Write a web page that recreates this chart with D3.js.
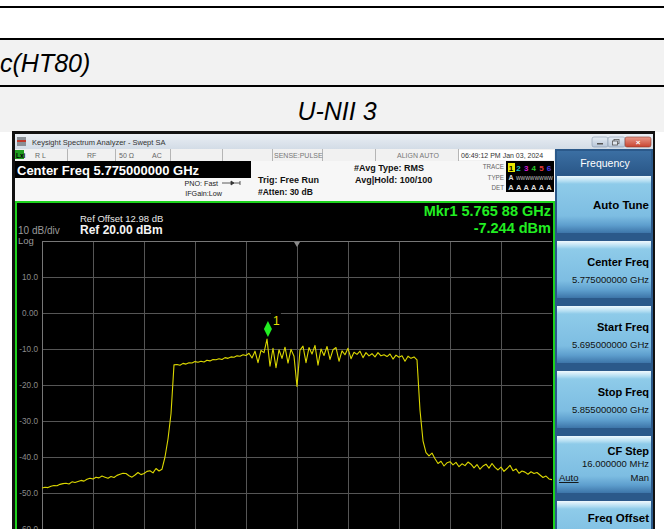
<!DOCTYPE html>
<html><head><meta charset="utf-8">
<script src="https://cdn.jsdelivr.net/npm/d3@7"></script>
<style>
body{margin:0;background:#fff}
svg{display:block}
text{font-family:"Liberation Sans",Arial,sans-serif}
</style>
</head><body>
<svg id="c" width="664" height="529"></svg>
<script>
// ---------------- data ----------------
const pageRows = ["c(HT80)", "U-NII 3"];
const startFreqGHz = 5.695;
const stopFreqGHz = 5.855;
const centerFreqGHz = 5.775;
const freqDivisions = 10;
const refLevelDbm = 20;
const dbPerDiv = 10;
const yTickValues = [10, 0, -10, -20, -30, -40, -50, -60];
const yTickLabels = ["10.0", "0.00", "-10.0", "-20.0", "-30.0", "-40.0", "-50.0", "-60.0"];
// trace amplitude (dBm) read at evenly spaced sweep points from start to stop
const traceDbm = [
-48.6,-48.4,-48.5,-48.1,-47.9,-48.0,-47.6,-47.4,-47.3,-47.5,
-46.9,-47.1,-46.8,-46.5,-46.7,-46.2,-45.9,-46.1,-45.6,-45.8,
-45.3,-45.6,-45.9,-45.4,-45.7,-45.1,-44.8,-44.5,-44.6,-45.2,
-45.6,-45.0,-44.3,-44.9,-44.6,-44.0,-43.8,-44.4,-43.2,-43.9,
-43.4,-40.0,-35.0,-28.0,-14.4,-14.3,-14.5,-14.0,-14.2,-13.8,
-13.9,-13.5,-13.7,-13.4,-13.6,-13.1,-13.3,-12.9,-13.0,-12.7,
-12.9,-12.4,-12.6,-12.2,-12.3,-11.9,-12.0,-11.6,-11.8,-11.2,
-12.5,-10.6,-13.8,-10.4,-11.0,-7.244,-14.8,-9.8,-15.2,-10.2,
-12.6,-9.5,-13.9,-10.1,-12.0,-20.4,-10.3,-9.2,-13.8,-9.6,
-11.4,-9.0,-14.5,-10.0,-11.8,-9.3,-12.9,-10.2,-9.6,-13.4,
-10.5,-11.6,-9.8,-12.7,-10.9,-11.5,-10.6,-12.4,-11.0,-11.9,
-11.3,-12.2,-11.0,-11.9,-11.6,-12.1,-11.4,-12.8,-11.7,-12.3,
-11.9,-13.4,-12.0,-12.6,-12.2,-13.0,-27.0,-35.5,-38.8,-39.7,
-38.9,-40.5,-41.8,-41.2,-42.5,-41.6,-41.3,-42.2,-41.5,-42.7,
-41.9,-42.4,-41.4,-42.0,-43.0,-42.1,-43.4,-42.5,-42.0,-43.1,
-41.8,-42.9,-43.6,-42.8,-44.0,-43.2,-42.3,-43.8,-43.3,-44.5,
-43.9,-44.2,-44.8,-44.1,-44.6,-44.3,-45.0,-45.7,-45.3,-46.1,
-46.3
];
const markerFreqGHz = 5.76588;
const markerDbm = -7.244;
const markerText = ["Mkr1 5.765 88 GHz", "-7.244 dBm"];
const headerInfo = {
  title: "Keysight Spectrum Analyzer - Swept SA",
  center: "Center Freq 5.775000000 GHz",
  pno: "PNO: Fast", ifgain: "IFGain:Low",
  trig: "Trig: Free Run", atten: "#Atten: 30 dB",
  avgType: "#Avg Type: RMS", avgHold: "Avg|Hold: 100/100",
  align: "ALIGN AUTO", sense: "SENSE:PULSE",
  time: "06:49:12 PM Jan 03, 2024",
  refOffset: "Ref Offset 12.98 dB", scale: "10 dB/div", ref: "Ref 20.00 dBm", log: "Log"
};
const statusCells = ["R L", "RF", "50 Ω", "AC"];
const traceNums = ["1", "2", "3", "4", "5", "6"];
const menuHeader = "Frequency";
const menuTitles = ["Auto Tune", "Center Freq", "Start Freq", "Stop Freq", "CF Step", "Freq Offset"];
const menuValues = ["", "5.775000000 GHz", "5.695000000 GHz", "5.855000000 GHz", "16.000000 MHz", ""];

// ---------------- drawing ----------------
const svg = d3.select("#c");
const W = 664, H = 529;
svg.append("rect").attr("width", W).attr("height", H).attr("fill", "#fff");

// document table rows
svg.append("rect").attr("x", 0).attr("y", 6).attr("width", W).attr("height", 2).attr("fill", "#000");
svg.append("rect").attr("x", 0).attr("y", 38).attr("width", W).attr("height", 2).attr("fill", "#000");
svg.append("rect").attr("x", 0).attr("y", 40).attr("width", W).attr("height", 45).attr("fill", "#f2f2f2");
svg.append("rect").attr("x", 0).attr("y", 85).attr("width", W).attr("height", 2).attr("fill", "#000");
svg.append("rect").attr("x", 0).attr("y", 87).attr("width", W).attr("height", 45).attr("fill", "#f2f2f2");
svg.append("text").attr("x", 0).attr("y", 72).attr("font-size", 25).attr("font-style", "italic").attr("fill", "#000").text(pageRows[0]);
svg.append("text").attr("x", 337).attr("y", 120).attr("font-size", 25).attr("font-style", "italic").attr("text-anchor", "middle").attr("fill", "#000").text(pageRows[1]);

// screenshot frame
const defs = svg.append("defs");
const gTitle = defs.append("linearGradient").attr("id", "gt").attr("x1", 0).attr("y1", 0).attr("x2", 0).attr("y2", 1);
gTitle.append("stop").attr("offset", "0%").attr("stop-color", "#e9eef4");
gTitle.append("stop").attr("offset", "100%").attr("stop-color", "#d3dce6");
const gBtn = defs.append("linearGradient").attr("id", "gb").attr("x1", 0).attr("y1", 0).attr("x2", 0).attr("y2", 1);
[["0%", "#eef8fd"], ["9%", "#b4def2"], ["14%", "#8ecbe9"], ["70%", "#7dbde2"], ["86%", "#5e9fce"], ["100%", "#3d75a9"]]
  .forEach(s => gBtn.append("stop").attr("offset", s[0]).attr("stop-color", s[1]));
const gHead = defs.append("linearGradient").attr("id", "gh").attr("x1", 0).attr("y1", 0).attr("x2", 0).attr("y2", 1);
gHead.append("stop").attr("offset", "0%").attr("stop-color", "#3b6fa3");
gHead.append("stop").attr("offset", "100%").attr("stop-color", "#2a5788");
const gClose = defs.append("linearGradient").attr("id", "gc").attr("x1", 0).attr("y1", 0).attr("x2", 0).attr("y2", 1);
gClose.append("stop").attr("offset", "0%").attr("stop-color", "#e8988a");
gClose.append("stop").attr("offset", "100%").attr("stop-color", "#c8432f");
const gWin = defs.append("linearGradient").attr("id", "gw").attr("x1", 0).attr("y1", 0).attr("x2", 0).attr("y2", 1);
gWin.append("stop").attr("offset", "0%").attr("stop-color", "#e4ebf3");
gWin.append("stop").attr("offset", "100%").attr("stop-color", "#b7c6d8");

svg.append("rect").attr("x", 12).attr("y", 131).attr("width", 643).attr("height", H - 131).attr("fill", "#111");
// title bar
svg.append("rect").attr("x", 15).attr("y", 134).attr("width", 638).attr("height", 15).attr("fill", "url(#gt)");
svg.append("rect").attr("x", 17).attr("y", 137).attr("width", 9).attr("height", 9).attr("fill", "#8a8f96");
svg.append("rect").attr("x", 17).attr("y", 140).attr("width", 9).attr("height", 2).attr("fill", "#c0392b");
svg.append("text").attr("x", 32).attr("y", 145).attr("font-size", 7.5).attr("fill", "#333").text(headerInfo.title);
// window buttons
svg.append("rect").attr("x", 592).attr("y", 137).attr("width", 16).attr("height", 10).attr("rx", 2).attr("fill", "url(#gw)").attr("stroke", "#8797ab").attr("stroke-width", 0.6);
svg.append("rect").attr("x", 597).attr("y", 143).attr("width", 6).attr("height", 1.5).attr("fill", "#555");
svg.append("rect").attr("x", 608).attr("y", 137).attr("width", 17).attr("height", 10).attr("rx", 2).attr("fill", "url(#gw)").attr("stroke", "#8797ab").attr("stroke-width", 0.6);
svg.append("rect").attr("x", 614).attr("y", 139.5).attr("width", 5).attr("height", 4).attr("fill", "none").attr("stroke", "#555").attr("stroke-width", 0.8);
svg.append("rect").attr("x", 612.5).attr("y", 141).attr("width", 5).attr("height", 4).attr("fill", "#dfe6ee").attr("stroke", "#555").attr("stroke-width", 0.8);
svg.append("rect").attr("x", 625).attr("y", 137).attr("width", 26).attr("height", 10).attr("rx", 2).attr("fill", "url(#gc)").attr("stroke", "#8b3a2e").attr("stroke-width", 0.6);
svg.append("text").attr("x", 638).attr("y", 145).attr("font-size", 8).attr("font-weight", "bold").attr("text-anchor", "middle").attr("fill", "#fff").text("×");

// status bar
svg.append("rect").attr("x", 15).attr("y", 149).attr("width", 540).attr("height", 12).attr("fill", "#f1f1f1");
svg.append("rect").attr("x", 15).attr("y", 150).attr("width", 9).attr("height", 9).attr("fill", "#1f9d1f");
svg.append("text").attr("x", 16).attr("y", 157.5).attr("font-size", 6.5).attr("font-weight", "bold").attr("fill", "#000").text("Lxi");
const sepX = [67, 115, 170, 222, 272, 322, 375, 458];
sepX.forEach(x => svg.append("rect").attr("x", x).attr("y", 149).attr("width", 1).attr("height", 12).attr("fill", "#b5b5b5"));
const cellX = [35, 87, 119, 152];
statusCells.forEach((t, i) => svg.append("text").attr("x", cellX[i]).attr("y", 158).attr("font-size", 7).attr("fill", "#666").text(t));
svg.append("text").attr("x", 274).attr("y", 158).attr("font-size", 7).attr("fill", "#777").text(headerInfo.sense);
svg.append("text").attr("x", 397).attr("y", 158).attr("font-size", 7).attr("fill", "#777").text(headerInfo.align);
svg.append("rect").attr("x", 459).attr("y", 150).attr("width", 95).attr("height", 10).attr("fill", "#fff");
svg.append("text").attr("x", 461).attr("y", 158).attr("font-size", 7).attr("fill", "#333").text(headerInfo.time);

// info area
svg.append("rect").attr("x", 15).attr("y", 161).attr("width", 540).attr("height", 40).attr("fill", "#f7f7f7");
svg.append("rect").attr("x", 15).attr("y", 161).attr("width", 236).attr("height", 17).attr("fill", "#000");
svg.append("text").attr("x", 17).attr("y", 175).attr("font-size", 13).attr("font-weight", "bold").attr("fill", "#fff").text(headerInfo.center);
svg.append("text").attr("x", 218).attr("y", 185.5).attr("font-size", 7.2).attr("text-anchor", "end").attr("fill", "#222").text(headerInfo.pno);
svg.append("text").attr("x", 222).attr("y", 195.5).attr("font-size", 7.2).attr("text-anchor", "end").attr("fill", "#222").text(headerInfo.ifgain);
svg.append("path").attr("d", "M222,183 H240 M231,181 l3,2 l-3,2 Z M240,181 v4").attr("stroke", "#333").attr("stroke-width", 0.8).attr("fill", "#333");
svg.append("text").attr("x", 258).attr("y", 182.5).attr("font-size", 9).attr("font-weight", "bold").attr("fill", "#111").text(headerInfo.trig);
svg.append("text").attr("x", 258).attr("y", 195).attr("font-size", 8.5).attr("font-weight", "bold").attr("fill", "#111").text(headerInfo.atten);
svg.append("text").attr("x", 354).attr("y", 170.5).attr("font-size", 9).attr("font-weight", "bold").attr("fill", "#111").text(headerInfo.avgType);
svg.append("text").attr("x", 355).attr("y", 182.5).attr("font-size", 9).attr("font-weight", "bold").attr("fill", "#111").text(headerInfo.avgHold);
// trace table
svg.append("text").attr("x", 504).attr("y", 169).attr("font-size", 6.3).attr("text-anchor", "end").attr("fill", "#666").text("TRACE");
svg.append("text").attr("x", 504).attr("y", 180).attr("font-size", 6.3).attr("text-anchor", "end").attr("fill", "#666").text("TYPE");
svg.append("text").attr("x", 504).attr("y", 190).attr("font-size", 6.3).attr("text-anchor", "end").attr("fill", "#666").text("DET");
svg.append("rect").attr("x", 506).attr("y", 161).attr("width", 48).attr("height", 31).attr("fill", "#000");
const numColors = ["#000", "#19c8c8", "#d21ed2", "#2ad22a", "#e83a3a", "#4a3ae8"];
traceNums.forEach((t, i) => {
  const x = 511 + i * 7.6;
  if (i === 0) svg.append("rect").attr("x", x - 3).attr("y", 163).attr("width", 7).attr("height", 9).attr("fill", "#e8e800");
  svg.append("text").attr("x", x).attr("y", 170.5).attr("font-size", 8).attr("font-weight", "bold").attr("text-anchor", "middle").attr("fill", numColors[i]).text(t);
  svg.append("text").attr("x", x).attr("y", 189.5).attr("font-size", 7.5).attr("font-weight", "bold").attr("text-anchor", "middle").attr("fill", "#ddd").text("A");
});
svg.append("text").attr("x", 511).attr("y", 180).attr("font-size", 7).attr("font-weight", "bold").attr("text-anchor", "middle").attr("fill", "#ddd").text("A");
svg.append("text").attr("x", 516).attr("y", 179.5).attr("font-size", 6).attr("fill", "#ccc").attr("textLength", 37).attr("lengthAdjust", "spacingAndGlyphs").text("WWWWWWWW");

// screen
svg.append("rect").attr("x", 15).attr("y", 201).attr("width", 540).attr("height", H - 201).attr("fill", "#1ed21e");
svg.append("rect").attr("x", 17).attr("y", 203).attr("width", 536).attr("height", H - 203).attr("fill", "#000");
svg.append("text").attr("x", 80).attr("y", 221.5).attr("font-size", 9.5).attr("fill", "#e8e8e8").text(headerInfo.refOffset);
svg.append("text").attr("x", 80).attr("y", 234).attr("font-size", 12).attr("font-weight", "bold").attr("fill", "#f4f4f4").text(headerInfo.ref);
svg.append("text").attr("x", 18).attr("y", 234).attr("font-size", 10).attr("fill", "#9a9a9a").text(headerInfo.scale);
svg.append("text").attr("x", 18).attr("y", 244).attr("font-size", 9.5).attr("fill", "#9a9a9a").text(headerInfo.log);
svg.append("text").attr("x", 551).attr("y", 216).attr("font-size", 14.5).attr("font-weight", "bold").attr("text-anchor", "end").attr("fill", "#22ee22").text(markerText[0]);
svg.append("text").attr("x", 551).attr("y", 232.5).attr("font-size", 14.5).attr("font-weight", "bold").attr("text-anchor", "end").attr("fill", "#22ee22").text(markerText[1]);

// graticule
const x0 = 42, x1 = 552, yTop = 241;
const x = d3.scaleLinear().domain([startFreqGHz, stopFreqGHz]).range([x0, x1]);
const y = d3.scaleLinear().domain([refLevelDbm - dbPerDiv * 10, refLevelDbm]).range([yTop + 360, yTop]);
const freqTicks = d3.range(freqDivisions + 1).map(k => startFreqGHz + k * (stopFreqGHz - startFreqGHz) / freqDivisions);

const gx = svg.append("g").attr("transform", `translate(0,${y(refLevelDbm - dbPerDiv * 10)})`)
  .call(d3.axisBottom(x).tickValues(freqTicks.slice(1, -1)).tickSize(-360).tickFormat(""));
gx.select(".domain").remove();
gx.selectAll("line").attr("stroke", "#555").attr("stroke-width", 1);

const gy = svg.append("g").attr("transform", `translate(${x0},0)`)
  .call(d3.axisLeft(y).tickValues(yTickValues).tickSize(-(x1 - x0)).tickPadding(4)
    .tickFormat((d, i) => yTickLabels[i]));
gy.select(".domain").remove();
gy.selectAll("line").attr("stroke", "#555").attr("stroke-width", 1);
gy.selectAll("text").attr("fill", "#8a8a8a").attr("font-size", 8.2).attr("font-family", "Liberation Sans, Arial, sans-serif");

// frame (top & left edge)
svg.append("line").attr("x1", x0).attr("x2", x1).attr("y1", y(refLevelDbm) + 0.5).attr("y2", y(refLevelDbm) + 0.5).attr("stroke", "#777");
svg.append("line").attr("x1", x0 + 0.5).attr("x2", x0 + 0.5).attr("y1", y(refLevelDbm)).attr("y2", H).attr("stroke", "#777");
// center freq triangle
const cx = x(centerFreqGHz);
svg.append("path").attr("d", `M${cx - 3},${yTop + 1} L${cx + 3},${yTop + 1} L${cx},${yTop + 6} Z`).attr("fill", "#8a8a8a");

// trace
svg.append("clipPath").attr("id", "plotclip").append("rect").attr("x", x0).attr("y", yTop).attr("width", x1 - x0).attr("height", 360);
const n = traceDbm.length;
const line = d3.line()
  .x((d, i) => x(startFreqGHz + i * (stopFreqGHz - startFreqGHz) / (n - 1)))
  .y(d => y(d));
svg.append("path").attr("clip-path", "url(#plotclip)").attr("d", line(traceDbm))
  .attr("fill", "none").attr("stroke", "#dcd800").attr("stroke-width", 1.1).attr("stroke-linejoin", "round");

// marker
const mx = x(markerFreqGHz), my = y(markerDbm);
svg.append("rect").attr("x", mx + 3).attr("y", my - 26).attr("width", 10).attr("height", 14).attr("fill", "#000");
svg.append("text").attr("x", mx + 5).attr("y", my - 14).attr("font-size", 12).attr("fill", "#e4e000").text("1");
svg.append("path").attr("d", `M${mx},${my - 18} L${mx + 4},${my - 10} L${mx},${my - 2} L${mx - 4},${my - 10} Z`).attr("fill", "#22ee22");

// right menu panel
svg.append("rect").attr("x", 555).attr("y", 149).attr("width", 98).attr("height", H - 149).attr("fill", "#2b598a");
svg.append("rect").attr("x", 557).attr("y", 151).attr("width", 94).attr("height", 24).attr("fill", "url(#gh)");
svg.append("text").attr("x", 605).attr("y", 167).attr("font-size", 10.5).attr("text-anchor", "middle").attr("fill", "#fff").text(menuHeader);
menuTitles.forEach((t, i) => {
  const top = 176 + 65 * i;
  svg.append("rect").attr("x", 557).attr("y", top).attr("width", 94).attr("height", 57).attr("fill", "url(#gb)");
  const v = menuValues[i];
  if (t === "CF Step") {
    svg.append("text").attr("x", 649).attr("y", top + 19).attr("font-size", 11).attr("font-weight", "bold").attr("text-anchor", "end").attr("fill", "#000").text(t);
    svg.append("text").attr("x", 649).attr("y", top + 31).attr("font-size", 9.5).attr("text-anchor", "end").attr("fill", "#111").text(v);
    svg.append("text").attr("x", 559).attr("y", top + 45).attr("font-size", 9.5).attr("text-decoration", "underline").attr("fill", "#111").text("Auto");
    svg.append("text").attr("x", 649).attr("y", top + 45).attr("font-size", 9.5).attr("text-anchor", "end").attr("fill", "#111").text("Man");
  } else if (v) {
    svg.append("text").attr("x", 649).attr("y", top + 25).attr("font-size", 11).attr("font-weight", "bold").attr("text-anchor", "end").attr("fill", "#000").text(t);
    svg.append("text").attr("x", 649).attr("y", top + 42).attr("font-size", 9.5).attr("text-anchor", "end").attr("fill", "#111").text(v);
  } else if (i === 0) {
    svg.append("text").attr("x", 649).attr("y", top + 33).attr("font-size", 11.5).attr("font-weight", "bold").attr("text-anchor", "end").attr("fill", "#000").text(t);
  } else {
    svg.append("text").attr("x", 649).attr("y", top + 21).attr("font-size", 11.5).attr("font-weight", "bold").attr("text-anchor", "end").attr("fill", "#000").text(t);
  }
});
</script>
</body></html>
